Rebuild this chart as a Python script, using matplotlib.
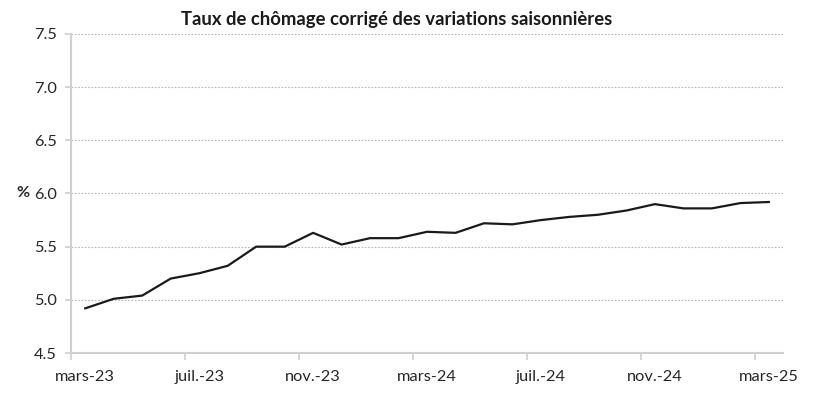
import matplotlib
matplotlib.use("Agg")
import matplotlib.pyplot as plt
from matplotlib.ticker import FixedLocator, FormatStrFormatter

# Données
months = [
    "mars-23", "avr.-23", "mai-23", "juin-23", "juil.-23", "août-23", "sept.-23",
    "oct.-23", "nov.-23", "déc.-23", "janv.-24", "févr.-24", "mars-24", "avr.-24",
    "mai-24", "juin-24", "juil.-24", "août-24", "sept.-24", "oct.-24", "nov.-24",
    "déc.-24", "janv.-25", "févr.-25", "mars-25",
]
rate = [
    4.92, 5.01, 5.04, 5.20, 5.25, 5.32, 5.50, 5.50, 5.63, 5.52, 5.58, 5.58, 5.64,
    5.63, 5.72, 5.71, 5.75, 5.78, 5.80, 5.84, 5.90, 5.86, 5.86, 5.91, 5.92,
]
y_ticks = [4.5, 5.0, 5.5, 6.0, 6.5, 7.0, 7.5]
title = "Taux de chômage corrigé des variations saisonnières"

plt.rcParams["font.family"] = ["Lato", "DejaVu Sans"]

fig = plt.figure(figsize=(8.2, 3.97), dpi=100)
ax = fig.add_axes([0.0866, 0.1108, 0.8684, 0.8036])

x = list(range(len(months)))
ax.plot(x, rate, color="#1a1a1a", lw=1.6, solid_joinstyle="round")

ax.set_xlim(-0.5, len(months) - 0.5)
ax.set_ylim(4.5, 7.5)
ax.set_yticks(y_ticks)
ax.yaxis.set_major_formatter(FormatStrFormatter("%.1f"))

# étiquettes tous les 4 mois, graduations entre les catégories (style Excel)
lab_pos = x[::4]
ax.xaxis.set_major_locator(FixedLocator(lab_pos))
ax.set_xticklabels([months[i] for i in lab_pos])
ax.xaxis.set_minor_locator(FixedLocator([i - 0.5 for i in lab_pos]))
ax.tick_params(axis="x", which="major", length=0, pad=12, labelsize=11.8, labelcolor="#262626")
ax.tick_params(axis="x", which="minor", length=5, width=1.2, color="#d0d0d0", direction="out")
ax.tick_params(axis="y", length=4, width=1.2, color="#d0d0d0", labelsize=11.8, labelcolor="#262626", pad=6)

ax.grid(axis="y", linestyle=(0, (1.5, 1.5)), color="#b8b8b8", lw=0.8)
ax.set_axisbelow(True)
for s in ("top", "right"):
    ax.spines[s].set_visible(False)
for s in ("left", "bottom"):
    ax.spines[s].set_color("#d0d0d0")
    ax.spines[s].set_linewidth(1.5)

fig.text(0.028, 1 - 193 / 397, "%", fontsize=11.5, fontweight="bold", color="#262626",
         ha="center", va="center")
fig.text(397 / 820, 1 - 20 / 397, title, fontsize=13.3, fontweight="bold",
         color="#1a1a1a", ha="center", va="center")

fig.savefig("out.png", dpi=100)
